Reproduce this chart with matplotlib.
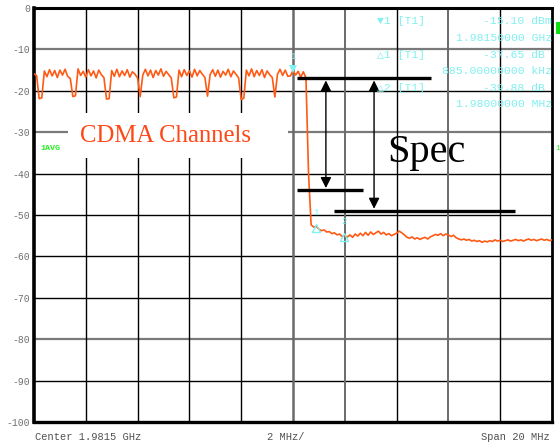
import matplotlib
matplotlib.use("Agg")
import matplotlib.pyplot as plt
import numpy as np
from matplotlib.patches import Rectangle

# trace, 0.1 MHz steps from -10 MHz to +10 MHz (offset from centre)
trace = [
    -15.9, -16.3, -21.9, -21.7, -15.2, -16.6, -14.9, -16.4, -15.1, -16.8,
    -15.0, -16.2, -14.8, -16.5, -17.0, -21.4, -21.2, -14.7, -16.3, -15.3,
    -16.7, -14.9, -16.4, -15.2, -16.9, -15.0, -16.1, -16.8, -22.0, -21.9,
    -15.1, -16.5, -14.8, -16.6, -15.2, -16.3, -14.9, -16.7, -15.4, -16.0,
    -16.9, -21.4, -16.2, -14.8, -16.4, -15.0, -16.8, -15.1, -16.2, -14.7,
    -16.5, -15.3, -16.1, -16.9, -21.7, -21.5, -15.0, -16.6, -14.9, -16.3,
    -15.2, -16.7, -14.8, -16.4, -15.1, -16.0, -16.8, -21.3, -16.1, -14.9,
    -16.5, -15.0, -16.7, -15.3, -16.2, -14.8, -16.6, -15.2, -16.0, -16.9,
    -22.1, -21.8, -15.0, -16.4, -14.7, -16.6, -15.1, -16.3, -14.9, -16.8,
    -15.2, -16.1, -16.8, -21.5, -16.0, -14.8, -16.3, -15.0, -16.5, -16.4,
    -15.1, -16.2, -15.3, -16.7, -15.4, -16.9, -40.0, -52.4, -52.9, -52.8,
    -53.4, -53.8, -53.6, -54.1, -54.0, -54.5, -54.3, -54.8, -54.6, -55.2,
    -55.0, -55.3, -54.8, -55.4, -54.6, -55.1, -54.4, -55.0, -54.2, -54.9,
    -54.1, -54.7, -54.3, -53.9, -54.6, -54.2, -54.8, -54.5, -55.0, -54.7,
    -54.4, -53.9, -54.3, -54.8, -55.4, -55.6, -55.3, -55.8, -55.5, -55.9,
    -55.6, -55.4, -55.8, -55.3, -55.0, -54.7, -54.9, -54.5, -55.0, -54.6,
    -54.8, -55.2, -54.9, -55.5, -55.8, -56.0, -55.8, -56.1, -55.9, -56.3,
    -56.1, -56.4, -56.2, -56.6, -56.3, -56.5, -56.2, -56.4, -56.0, -56.3,
    -56.1, -56.4, -56.2, -56.0, -56.3, -56.1, -55.9, -56.2, -56.0, -56.3,
    -56.0, -55.8, -56.1, -55.9, -56.2, -56.0, -55.8, -56.1, -55.9, -56.2,
    -56.0,
]
freq = np.linspace(-10, 10, len(trace))

y_ticks = [0, -10, -20, -30, -40, -50, -60, -70, -80, -90, -100]
x_grid = [-8, -6, -4, -2, 0, 2, 4, 6, 8]

# markers: (freq offset MHz, level dBm, label)
markers = [(0.0, -15.10, "1"), (0.885, -52.75, "1"), (1.98, -54.98, "2")]

readout = [
    ("\u25bc1 [T1]", "-15.10 dBm", "1.98150000 GHz"),
    ("\u25b31 [T1]", "-37.65 dB ", "885.00000000 kHz"),
    ("\u25b32 [T1]", "-39.88 dB ", "1.98000000 MHz"),
]

# spec lines (y level, x start, x end) and arrows (x, top, bottom)
spec_lines = [(-17.0, 0.15, 5.33), (-44.0, 0.15, 2.70), (-49.0, 1.58, 8.57)]
spec_arrows = [(1.27, -17.0, -44.0), (3.13, -17.0, -49.0)]

mono = ["Liberation Mono", "DejaVu Sans Mono"]

fig = plt.figure(figsize=(5.6, 4.44), dpi=100)
ax = fig.add_axes([34 / 560, 1 - 422 / 444, 518 / 560, 414 / 444])
ax.set_xlim(-10, 10)
ax.set_ylim(-100, 0)

gray_h = {-10, -30, -80}
for y in y_ticks[1:-1]:
    if y in gray_h:
        ax.axhline(y, color="#7a7a7a", lw=1.6, zorder=1)
    else:
        ax.axhline(y, color="black", lw=1.0, zorder=1)
gray_v = {0, 2, 6}
for x in x_grid:
    if x in gray_v:
        ax.axvline(x, color="#6a6a6a", lw=1.8 if x == 0 else 1.4, zorder=1)
    else:
        ax.axvline(x, color="black", lw=1.0, zorder=1)

ax.set_xticks([])
ax.set_yticks(y_ticks)
ax.set_yticklabels([str(v) for v in y_ticks], family=mono,
                   fontsize=7, color="#707070")
ax.tick_params(axis="y", length=0, pad=3)
for side, lw in [("left", 2.6), ("bottom", 2.4), ("top", 2.2), ("right", 2.0)]:
    ax.spines[side].set_linewidth(lw)
    ax.spines[side].set_color("black")

# white box behind the CDMA label
ax.add_patch(Rectangle((-8.69, -36.2), 8.5, 10.8, facecolor="white",
                       edgecolor="none", zorder=2))

ax.plot(freq, trace, color="#ff5a14", lw=1.2, zorder=4)

cyan = "#80f0f0"
for f, lev, lab in markers:
    if lab == "1" and f == 0.0:
        ax.plot(f, lev + 0.4, marker="v", ms=6, color=cyan, zorder=5,
                markeredgewidth=0)
    else:
        ax.plot(f, lev - 0.3, marker="^", ms=5.5, mfc="none", mec=cyan,
                mew=1.0, zorder=5)
    ax.text(f, lev + 3.4, lab, color=cyan, fontsize=6.5, ha="center",
            va="center", family=mono, zorder=5)

for y, x0, x1 in spec_lines:
    ax.plot([x0, x1], [y, y], color="black", lw=2.4, zorder=6,
            solid_capstyle="butt")
for x, top, bot in spec_arrows:
    ax.annotate("", xy=(x, top - 0.5), xytext=(x, bot + 0.5),
                arrowprops=dict(arrowstyle="<|-|>", color="black", lw=1.0,
                                mutation_scale=16, shrinkA=0, shrinkB=0),
                zorder=6)

ax.text(-4.94, -31.0, "CDMA Channels", color="#ff4818", fontsize=17.8,
        family="Liberation Serif", ha="center", va="center", zorder=3)
ax.text(5.14, -34.8, "Spec", color="black", fontsize=29,
        family="Liberation Serif", ha="center", va="center", zorder=3)

# marker readout block
rows_y = [21, 38, 55, 71, 88, 104]
for i, (head, val, second) in enumerate(readout):
    y1 = 1 - rows_y[2 * i] / 444
    y2 = 1 - rows_y[2 * i + 1] / 444
    fig.text(377 / 560, y1, head, color=cyan, fontsize=8.2,
             family=mono, va="center", ha="left")
    fig.text(552 / 560, y1, val, color=cyan, fontsize=8.2,
             family=mono, va="center", ha="right")
    fig.text(552 / 560, y2, second, color=cyan, fontsize=8.2,
             family=mono, va="center", ha="right")

green = "#22ee22"
fig.text(40 / 560, 1 - 148 / 444, "1AVG", color=green, fontsize=6,
         family=mono, weight="bold", va="center", ha="left")
fig.text(555 / 560, 1 - 148 / 444, "1", color=green, fontsize=5.5,
         family=mono, va="center", ha="left")
fig.patches.append(Rectangle((556 / 560, 1 - 34 / 444), 4 / 560, 12 / 444,
                             transform=fig.transFigure, facecolor="#10e010",
                             edgecolor="none"))

# bottom annotation
foot = 1 - 437 / 444
fig.text(35 / 560, foot, "Center 1.9815 GHz", color="#505050", fontsize=7.5,
         family=mono, va="center", ha="left")
fig.text(286 / 560, foot, "2 MHz/", color="#505050", fontsize=7.5,
         family=mono, va="center", ha="center")
fig.text(550 / 560, foot, "Span 20 MHz", color="#505050", fontsize=7.5,
         family=mono, va="center", ha="right")

fig.savefig("out.png", dpi=100, facecolor="white")
